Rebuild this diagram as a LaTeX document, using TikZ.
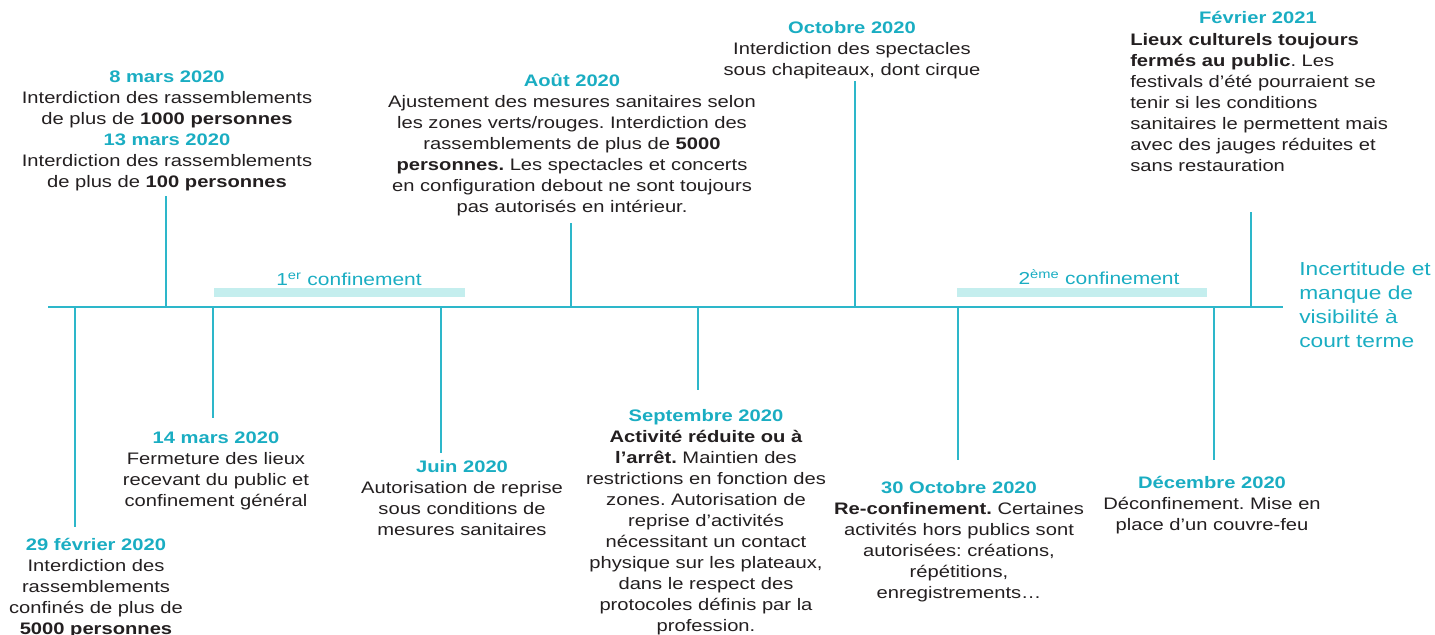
\documentclass[tikz,border=0pt]{standalone}
\usepackage{fontspec}
\setmainfont{Liberation Sans}[FakeStretch=1.21]
\usepackage{xcolor}
\usepackage{tikz}
\frenchspacing

\definecolor{datecol}{HTML}{1AADC2}
\definecolor{linecol}{HTML}{2DB7CA}
\definecolor{barcol}{HTML}{C4EEEE}
\definecolor{bodycol}{HTML}{231F20}

\newcommand{\evdate}[1]{\textcolor{datecol}{\textbf{#1}}}

\begin{document}
\begin{tikzpicture}[x=0.75pt,y=-0.75pt,
    event/.style={anchor=north,align=center,inner sep=0pt,text=bodycol,font=\fontsize{12.5}{15.75}\selectfont},
    tick/.style={draw=linecol,line width=1.5pt},
    conf/.style={anchor=base,inner sep=0pt,text=datecol,font=\fontsize{13}{15}\selectfont}]
    \useasboundingbox (0,0) rectangle (1435,635);

    % axe du temps
    \coordinate (axisL) at (48,307);
    \coordinate (axisR) at (1283,307);

    % les deux confinements
    \fill[barcol] (214,288) rectangle (465,297);
    \node[conf] (conf1) at (349,285) {1\textsuperscript{er} confinement};
    \fill[barcol] (957,288) rectangle (1207,297);
    \node[conf] (conf2) at (1099,284) {2\textsuperscript{ème} confinement};

    % evenements au-dessus
    \node[event] (m8) at (167,71) {\evdate{8 mars 2020}\\
        Interdiction des rassemblements\\
        de plus de \textbf{1000 personnes}\\
        \evdate{13 mars 2020}\\
        Interdiction des rassemblements\\
        de plus de \textbf{100 personnes}};
    \node[event] (aout) at (572,74) {\evdate{Août 2020}\\
        Ajustement des mesures sanitaires selon\\
        les zones verts/rouges. Interdiction des\\
        rassemblements de plus de \textbf{5000}\\
        \textbf{personnes.} Les spectacles et concerts\\
        en configuration debout ne sont toujours\\
        pas autorisés en intérieur.};
    \node[event] (oct) at (852,21) {\evdate{Octobre 2020}\\
        Interdiction des spectacles\\
        sous chapiteaux, dont cirque};
    \node[event] (fev21d) at (1258,11) {\evdate{Février 2021}};
    \node[event,anchor=north west,align=left] (fev21) at (1130,33) {\textbf{Lieux culturels toujours}\\
        \textbf{fermés au public}. Les\\
        festivals d’été pourraient se\\
        tenir si les conditions\\
        sanitaires le permettent mais\\
        avec des jauges réduites et\\
        sans restauration};

    % evenements en dessous
    \node[event] (f29) at (96,538) {\evdate{29 février 2020}\\
        Interdiction des\\
        rassemblements\\
        confinés de plus de\\
        \textbf{5000 personnes}};
    \node[event] (m14) at (216,432) {\evdate{14 mars 2020}\\
        Fermeture des lieux\\
        recevant du public et\\
        confinement général};
    \node[event] (juin) at (462,460) {\evdate{Juin 2020}\\
        Autorisation de reprise\\
        sous conditions de\\
        mesures sanitaires};
    \node[event] (sept) at (706,409) {\evdate{Septembre 2020}\\
        \textbf{Activité réduite ou à}\\
        \textbf{l’arrêt.} Maintien des\\
        restrictions en fonction des\\
        zones. Autorisation de\\
        reprise d’activités\\
        nécessitant un contact\\
        physique sur les plateaux,\\
        dans le respect des\\
        protocoles définis par la\\
        profession.};
    \node[event] (oct30) at (959,481) {\evdate{30 Octobre 2020}\\
        \textbf{Re-confinement.} Certaines\\
        activités hors publics sont\\
        autorisées: créations,\\
        répétitions,\\
        enregistrements…};
    \node[event] (dec) at (1212,476) {\evdate{Décembre 2020}\\
        Déconfinement. Mise en\\
        place d’un couvre-feu};

    % texte de fin
    \node[anchor=north west,align=left,inner sep=0pt,text=datecol,font=\fontsize{14.1}{18}\selectfont] (incert) at (1299,262)
        {Incertitude et\\ manque de\\ visibilité à\\ court terme};

    % traits vers le haut
    \foreach \n/\x/\g in {m8/166/4, aout/571/7, oct/855/2, fev21/1251/40}
    {
        \coordinate (t-\n) at (\x,307);
        \draw[tick,shorten >=\g*0.75pt] (t-\n) -- (t-\n |- \n.south);
    }
    % traits vers le bas
    \foreach \n/\x/\g in {f29/75/11, m14/213/14, juin/441/7, sept/698/19, oct30/958/21, dec/1214/16}
    {
        \coordinate (t-\n) at (\x,307);
        \draw[tick,shorten >=\g*0.75pt] (t-\n) -- (t-\n |- \n.north);
    }

    \draw[tick] (axisL) -- (axisR);
\end{tikzpicture}
\end{document}
